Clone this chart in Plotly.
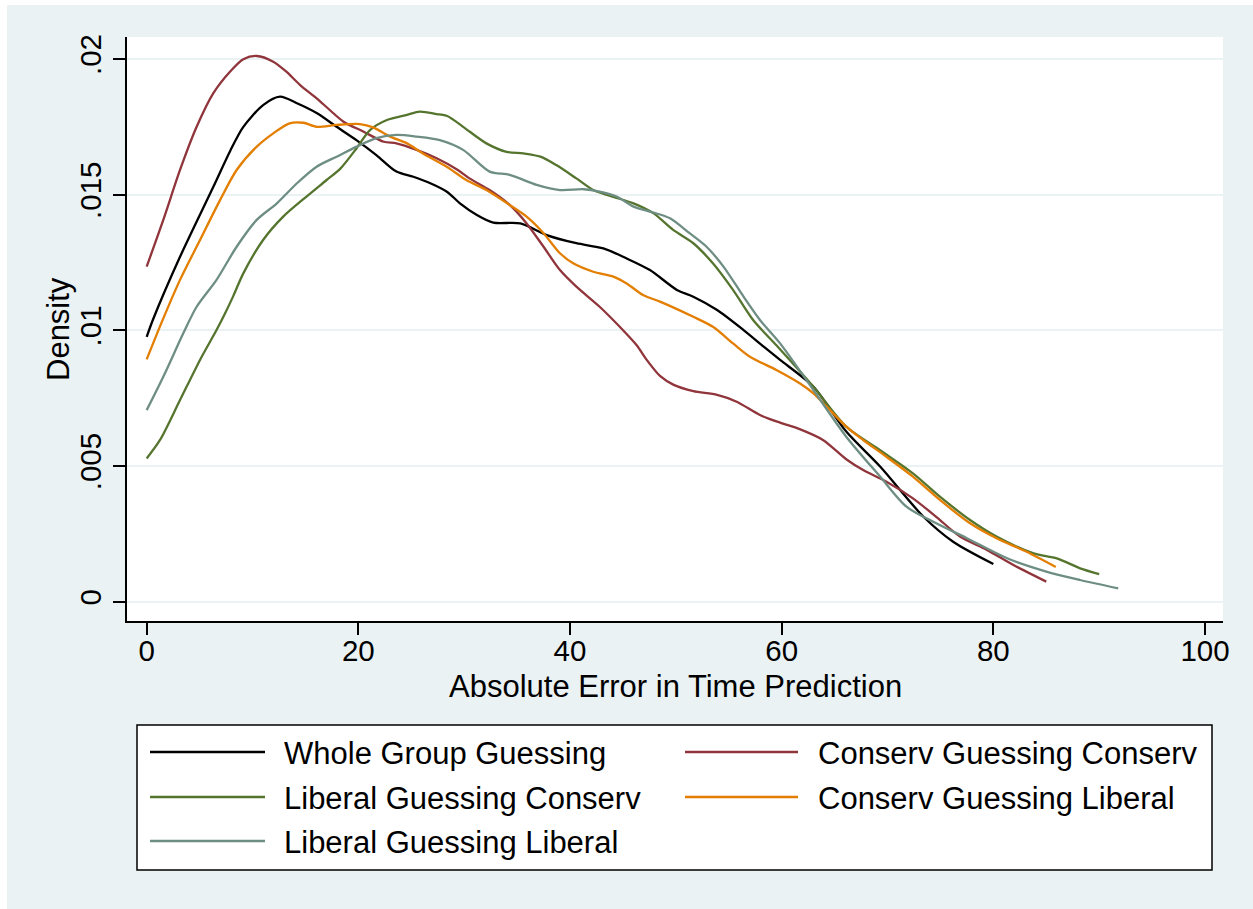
import plotly.graph_objects as go

# ---- kernel density estimates of absolute error, by group ----
series_names = [
    "Whole Group Guessing",
    "Conserv Guessing Conserv",
    "Liberal Guessing Conserv",
    "Conserv Guessing Liberal",
    "Liberal Guessing Liberal",
]

whole_x = [0, 0.6, 3.15, 6.3, 7.9, 9.1, 11.0, 12.6, 14.2, 16.1, 17.95, 19.85, 21.7, 23.6,
           25.2, 26.8, 28.4, 29.6, 31.2, 32.75, 35.3, 37.8, 40.6, 43.15, 45.35, 47.55,
           50.1, 51.65, 53.9, 56.4, 58.3, 59.85, 63.0, 66.1, 69.3, 73.4, 76.2, 80.0]
whole_y = [.00976, .0104, .01271, .01529, .01662, .01748, .0183, .01861, .01837, .0180,
           .0175, .0170, .01646, .01585, .01566, .01542, .0151, .01468, .01425, .01397,
           .01394, .01351, .01321, .01302, .01265, .01222, .01149, .01124, .01075, .01001,
           .0094, .00891, .00792, .00627, .00498, .00313, .00221, .00139]

cc_x = [0, 1.57, 3.15, 4.72, 6.3, 7.87, 9.13, 10.4, 11.96, 13.2, 14.5, 16.06, 17.3, 18.6,
        20.5, 22.4, 23.6, 25.5, 27.4, 29.4, 30.5, 32.4, 34.3, 35.9, 37.5, 39.05, 40.6,
        42.8, 44.7, 46.3, 47.25, 48.5, 49.8, 51.65, 53.9, 55.75, 57.95, 59.85, 61.7,
        63.9, 66.1, 67.7, 69.9, 72.4, 74.6, 76.85, 79.4, 81.9, 85.0]
cc_y = [.01235, .01407, .01591, .0175, .01874, .01953, .01999, .02011, .0199, .01953,
        .01904, .01855, .01812, .01769, .01732, .01695, .01689, .01665, .01634, .01591,
        .0156, .01517, .01462, .01394, .01308, .01222, .01161, .01087, .01013, .00945,
        .00891, .00832, .00799, .00776, .00762, .00737, .00688, .0066, .00636, .00596,
        .00525, .00485, .00442, .00381, .00313, .0024, .00191, .00135, .00074]

lc_x = [0, 1.26, 3.15, 5.04, 6.6, 7.4, 8.2, 9.13, 11.0, 12.9, 15.1, 17.0, 18.3, 19.85,
        21.1, 22.7, 24.6, 25.8, 27.4, 28.4, 29.9, 32.1, 34.0, 35.6, 37.2, 38.7, 40.6,
        42.2, 43.8, 46.0, 47.9, 49.75, 51.65, 53.5, 55.4, 57.3, 59.5, 63.0, 66.1, 69.3,
        72.4, 74.95, 77.8, 80.3, 83.8, 86.0, 88.2, 90.0]
lc_y = [.00528, .00596, .00743, .00891, .01001, .01062, .01128, .0121, .01333, .01419,
        .01493, .01554, .01596, .01672, .01738, .01775, .01794, .01806, .01797, .0179,
        .0175, .01689, .01658, .01652, .0164, .01609, .0156, .01517, .01495, .01468,
        .01431, .0137, .01321, .01247, .01149, .01038, .00945, .00792, .00645, .00558,
        .00473, .00387, .00301, .0024, .00178, .0016, .00123, .00102]

cl_x = [0, 1.57, 3.15, 5.04, 6.93, 8.5, 10.4, 11.96, 13.5, 14.8, 16.06, 17.95, 20.15,
        21.4, 23.0, 24.6, 26.1, 28.35, 30.2, 32.1, 34.3, 35.9, 37.5, 39.05, 40.3, 42.2,
        44.1, 45.35, 46.9, 48.5, 51.65, 53.5, 55.4, 57.0, 59.5, 61.7, 63.0, 66.1, 67.7,
        69.9, 72.4, 74.95, 77.8, 80.3, 83.15, 85.9]
cl_y = [.00893, .01044, .01186, .01333, .0148, .01591, .01677, .01726, .01763, .01765,
        .0175, .01757, .0176, .01748, .01714, .01689, .01652, .01603, .01554, .01517,
        .01462, .01419, .01358, .01284, .01247, .01216, .01198, .01173, .0113, .01106,
        .0105, .01013, .00952, .00903, .00854, .00805, .00768, .00645, .00596, .00534,
        .00461, .00375, .00289, .00234, .00184, .00128]

ll_x = [0, 1.57, 3.46, 4.72, 6.6, 8.5, 10.4, 12.3, 14.2, 16.06, 17.95, 19.85, 21.7, 23.6,
        25.5, 27.7, 29.9, 32.4, 34.3, 36.85, 39.05, 41.3, 42.8, 44.4, 46.0, 47.9, 49.45,
        51.3, 52.9, 54.5, 56.4, 57.95, 59.85, 63.0, 66.1, 69.3, 71.8, 74.6, 77.5, 81.3,
        85.0, 88.2, 91.8]
ll_y = [.00706, .00829, .00989, .01087, .01186, .01308, .01407, .01468, .01542, .01603,
        .0164, .01677, .01708, .0172, .01714, .01701, .01665, .01585, .01573, .01536,
        .01517, .0152, .01511, .01493, .01456, .01434, .01413, .01358, .01308, .01235,
        .01124, .01038, .00952, .0078, .00608, .00461, .0035, .00289, .00234, .0016,
        .00111, .0008, .00049]

series_x = [whole_x, cc_x, lc_x, cl_x, ll_x]
series_y = [whole_y, cc_y, lc_y, cl_y, ll_y]
series_colors = ["#000000", "#90353B", "#55752F", "#E37E00", "#6E8E84"]

x_ticks = [0, 20, 40, 60, 80, 100]
y_ticks = [0, 0.005, 0.01, 0.015, 0.02]
y_tick_labels = ["0", ".005", ".01", ".015", ".02"]

# ---- page geometry (pixels) ----
W, H = 1253, 909
PL, PR, PT, PB = 127, 1223, 37, 621          # plot area edges
BG = "#EAF2F3"
FONT = "Liberation Sans, Arial, sans-serif"


def px_x(px):
    return (px - PL) / (PR - PL)


def px_y(py):
    return (PB - py) / (PB - PT)


fig = go.Figure()
for name, xs, ys, col in zip(series_names, series_x, series_y, series_colors):
    fig.add_trace(go.Scatter(
        x=xs, y=ys, mode="lines", name=name, showlegend=False,
        line=dict(color=col, width=2.3, shape="spline", smoothing=0.8),
    ))

shapes = [
    # white strips at the left and top edges of the page
    dict(type="rect", xref="paper", yref="paper", layer="below",
         x0=px_x(-5), x1=px_x(7), y0=px_y(H + 5), y1=px_y(-5),
         fillcolor="white", line=dict(width=0)),
    dict(type="rect", xref="paper", yref="paper", layer="below",
         x0=px_x(-5), x1=px_x(W + 5), y0=px_y(5), y1=px_y(-5),
         fillcolor="white", line=dict(width=0)),
    # legend frame
    dict(type="rect", xref="paper", yref="paper",
         x0=px_x(137), x1=px_x(1212), y0=px_y(870), y1=px_y(725),
         fillcolor="white", line=dict(color="black", width=1.5)),
]
annotations = []

# legend: two columns, filled row by row
rows_py = [752, 797, 841]
cols = [(150, 265, 284), (685, 798, 818)]
for i, (name, col) in enumerate(zip(series_names, series_colors)):
    c, r = i % 2, i // 2
    lx0, lx1, tx = cols[c]
    py = rows_py[r]
    shapes.append(dict(type="line", xref="paper", yref="paper",
                       x0=px_x(lx0), x1=px_x(lx1), y0=px_y(py), y1=px_y(py),
                       line=dict(color=col, width=2.5)))
    annotations.append(dict(xref="paper", yref="paper", x=px_x(tx - 2), y=px_y(py + 1),
                            text=name, showarrow=False, xanchor="left", yanchor="middle",
                            font=dict(family=FONT, size=31, color="black")))

# axis titles
annotations.append(dict(xref="paper", yref="paper", x=px_x(58), y=px_y(329),
                        text="Density", textangle=-90, showarrow=False,
                        xanchor="center", yanchor="middle",
                        font=dict(family=FONT, size=31, color="black")))
annotations.append(dict(xref="paper", yref="paper", x=px_x(675), y=px_y(687),
                        text="Absolute Error in Time Prediction", showarrow=False,
                        xanchor="center", yanchor="middle",
                        font=dict(family=FONT, size=31, color="black")))

fig.update_layout(
    width=W, height=H,
    margin=dict(l=PL, r=W - PR, t=PT, b=H - PB, pad=0),
    paper_bgcolor=BG, plot_bgcolor="white",
    font=dict(family=FONT, size=29.5, color="black"),
    shapes=shapes, annotations=annotations,
    showlegend=False,
)
fig.update_xaxes(
    range=[-1.86, 101.7], tickvals=x_ticks, ticks="outside", ticklen=12, tickwidth=1.5,
    tickcolor="black", showline=True, linecolor="black", linewidth=1.5,
    showgrid=False, zeroline=False, tickfont=dict(size=29.5), ticklabelstandoff=-9,
)
fig.update_yaxes(
    range=[-0.000711, 0.02081], tickvals=y_ticks, ticktext=y_tick_labels, tickangle=-90,
    ticks="outside", ticklen=12, tickwidth=1.5, tickcolor="black",
    showline=True, linecolor="black", linewidth=1.5,
    showgrid=True, gridcolor=BG, gridwidth=2, zeroline=False, tickfont=dict(size=29.5),
)

fig.write_html("out.html")
